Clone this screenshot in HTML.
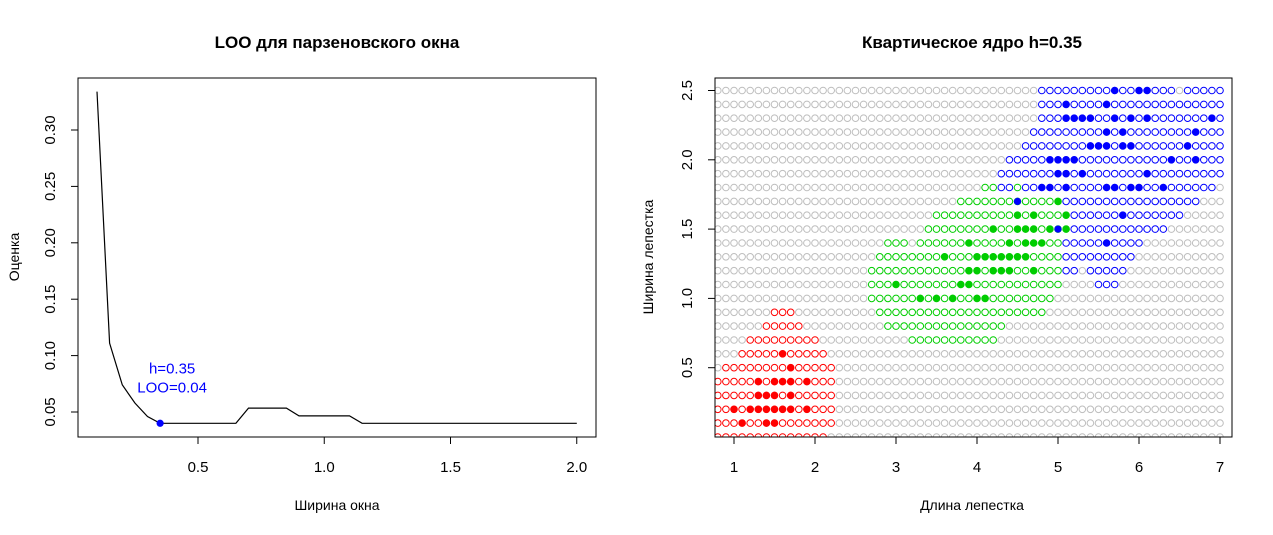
<!DOCTYPE html>
<html><head><meta charset="utf-8"><style>
body{margin:0;background:#fff;}
svg{display:block;font-family:"Liberation Sans",sans-serif;}
</style></head><body>
<svg id="svg" width="1273" height="535" viewBox="0 0 1273 535" xmlns="http://www.w3.org/2000/svg">
<rect width="1273" height="535" fill="#fff"/>
<defs><clipPath id="clipR"><rect x="715" y="78" width="517" height="359"/></clipPath></defs>
<text x="337" y="48" text-anchor="middle" font-size="17" font-weight="bold">LOO для парзеновского окна</text>
<text x="337" y="510" text-anchor="middle" font-size="14">Ширина окна</text>
<text transform="translate(19,257) rotate(-90)" text-anchor="middle" font-size="14">Оценка</text>
<rect x="78" y="78" width="518" height="359" fill="none" stroke="#000" stroke-width="1"/>
<g id="left"></g>
<text x="972" y="48" text-anchor="middle" font-size="17" font-weight="bold">Квартическое ядро h=0.35</text>
<text x="972" y="510" text-anchor="middle" font-size="14">Длина лепестка</text>
<text transform="translate(653,257) rotate(-90)" text-anchor="middle" font-size="14">Ширина лепестка</text>
<g id="right" clip-path="url(#clipR)"></g>
<g id="rightAxes"></g>
<rect x="715" y="78" width="517" height="359" fill="none" stroke="#000" stroke-width="1"/>
</svg>
<script>
// ---- Left chart data ----
const hValues=[0.1,0.15,0.2,0.25,0.3,0.35,0.4,0.45,0.5,0.55,0.6,0.65,0.7,0.75,0.8,0.85,0.9,0.95,1.0,1.05,1.1,1.15,1.2,1.25,1.3,1.35,1.4,1.45,1.5,1.55,1.6,1.65,1.7,1.75,1.8,1.85,1.9,1.95,2.0];
const looValues=[0.334,0.111,0.074,0.058,0.046,0.040,0.040,0.040,0.040,0.040,0.040,0.040,0.0535,0.0535,0.0535,0.0535,0.0465,0.0465,0.0465,0.0465,0.0465,0.040,0.040,0.040,0.040,0.040,0.040,0.040,0.040,0.040,0.040,0.040,0.040,0.040,0.040,0.040,0.040,0.040,0.040];
const leftXTicks=[0.5,1.0,1.5,2.0];
const leftXTickLabels=["0.5","1.0","1.5","2.0"];
const leftYTicks=[0.05,0.10,0.15,0.20,0.25,0.30];
const leftYTickLabels=["0.05","0.10","0.15","0.20","0.25","0.30"];
const bestH=0.35, bestLoo=0.04;
// ---- Right chart data ----
const gridYs=[2.5,2.4,2.3,2.2,2.1,2.0,1.9,1.8,1.7,1.6,1.5,1.4,1.3,1.2,1.1,1.0,0.9,0.8,0.7,0.6,0.5,0.4,0.3,0.2,0.1,0.0];
const gridSegments=[
 [["b",4.8,6.4],["b",6.6,7.0]],
 [["b",4.8,7.0]],
 [["b",4.8,7.0]],
 [["b",4.7,7.0]],
 [["b",4.6,7.0]],
 [["b",4.4,7.0]],
 [["b",4.3,7.0]],
 [["g",4.1,4.2],["b",4.3,4.4],["g",4.5,4.5],["b",4.6,6.9]],
 [["g",3.8,5.0],["b",5.1,6.7]],
 [["g",3.5,5.1],["b",5.2,6.5]],
 [["g",3.4,5.1],["b",5.2,6.3]],
 [["g",2.9,3.1],["g",3.3,5.0],["b",5.1,6.0]],
 [["g",2.8,5.0],["b",5.1,5.9]],
 [["g",2.7,5.0],["b",5.1,5.2],["b",5.4,5.8]],
 [["g",2.7,5.0],["b",5.5,5.7]],
 [["g",2.7,4.9]],
 [["r",1.5,1.7],["g",2.8,4.8]],
 [["r",1.4,1.8],["g",2.9,4.3]],
 [["r",1.2,2.0],["g",3.2,4.2]],
 [["r",1.1,2.1]],
 [["r",0.9,2.2]],
 [["r",0.8,2.2]],
 [["r",0.8,2.2]],
 [["r",0.8,2.2]],
 [["r",0.8,2.2]],
 [["r",0.8,2.1]]
];
const setosaX=[1.6,1.7,1.3,1.5,1.6,1.7,1.9,1.3,1.4,1.5,1.7,1.0,1.2,1.3,1.4,1.5,1.6,1.7,1.9,1.1,1.4,1.5];
const setosaY=[0.6,0.5,0.4,0.4,0.4,0.4,0.4,0.3,0.3,0.3,0.3,0.2,0.2,0.2,0.2,0.2,0.2,0.2,0.2,0.1,0.1,0.1];
const versicolorX=[5.0,4.5,4.7,5.1,4.2,4.5,4.6,4.7,4.9,5.1,3.9,4.4,4.6,4.7,4.8,3.6,4.0,4.1,4.2,4.3,4.4,4.5,4.6,3.9,4.0,4.2,4.3,4.4,4.7,3.0,3.8,3.9,3.3,3.5,3.7,4.0,4.1];
const versicolorY=[1.7,1.6,1.6,1.6,1.5,1.5,1.5,1.5,1.5,1.5,1.4,1.4,1.4,1.4,1.4,1.3,1.3,1.3,1.3,1.3,1.3,1.3,1.3,1.2,1.2,1.2,1.2,1.2,1.2,1.1,1.1,1.1,1.0,1.0,1.0,1.0,1.0];
const virginicaX=[5.7,6.0,6.1,5.1,5.6,5.1,5.2,5.3,5.4,5.7,5.9,6.1,6.9,5.6,5.8,6.7,5.4,5.5,5.6,5.8,5.9,6.6,4.9,5.0,5.1,5.2,6.4,6.7,5.0,5.1,5.3,6.1,4.8,4.9,5.1,5.6,5.7,5.9,6.0,6.3,4.5,5.8,5.0,5.6];
const virginicaY=[2.5,2.5,2.5,2.4,2.4,2.3,2.3,2.3,2.3,2.3,2.3,2.3,2.3,2.2,2.2,2.2,2.1,2.1,2.1,2.1,2.1,2.1,2.0,2.0,2.0,2.0,2.0,2.0,1.9,1.9,1.9,1.9,1.8,1.8,1.8,1.8,1.8,1.8,1.8,1.8,1.7,1.6,1.5,1.4];
const rightXTicks=[1,2,3,4,5,6,7];
const rightYTicks=[0.5,1.0,1.5,2.0,2.5];
const rightYTickLabels=["0.5","1.0","1.5","2.0","2.5"];

const NS="http://www.w3.org/2000/svg";
function mk(parent,tag,attrs){const e=document.createElementNS(NS,tag);for(const k in attrs)e.setAttribute(k,attrs[k]);parent.appendChild(e);return e;}
// left axes
const lx=v=>198+(v-0.5)*252.5;
const ly=v=>412-(v-0.05)*1128;
const L=document.getElementById('left');
leftXTicks.forEach((t,i)=>{
 const tk=mk(L,'line',{x1:lx(t),x2:lx(t),y1:437,y2:444,stroke:'#000'});
 
 
 const tx=mk(L,'text',{x:lx(t),y:472,'text-anchor':'middle','font-size':15});
 tx.textContent=leftXTickLabels[i];
 
 
});
leftYTicks.forEach((t,i)=>{
 const tk=mk(L,'line',{x1:71,x2:78,y1:ly(t),y2:ly(t),stroke:'#000'});
 
 
 const tx=mk(L,'text',{transform:`translate(55,${ly(t)}) rotate(-90)`,'text-anchor':'middle','font-size':15});
 tx.textContent=leftYTickLabels[i];
 
 
});
const pts=hValues.map((h,i)=>lx(h).toFixed(1)+','+ly(looValues[i]).toFixed(1)).join(' ');
const line=mk(L,'polyline',{points:pts,fill:'none',stroke:'#000','stroke-width':1.2});


const bp=mk(L,'circle',{cx:lx(bestH),cy:ly(bestLoo),r:3.6,fill:'#0000ff'});


const a1=mk(L,'text',{x:lx(bestH)+12,y:ly(bestLoo)-50,'text-anchor':'middle','font-size':15,fill:'#0000ff'});
a1.textContent='h='+bestH;


const a2=mk(L,'text',{x:lx(bestH)+12,y:ly(bestLoo)-31,'text-anchor':'middle','font-size':15,fill:'#0000ff'});
a2.textContent='LOO='+bestLoo;



// right
const rx=v=>734+(v-1)*81;
const ry=v=>437-v*138.6;
const R=document.getElementById('right');
const RA=document.getElementById('rightAxes');
const col={r:'#ff0000',g:'#00cd00',b:'#0000ff','.':'#bebebe'};
gridYs.forEach((y,ri)=>{
 for(let i=0;i<=62;i++){
  const x=Math.round((0.8+0.1*i)*10)/10;
  let c='.';
  gridSegments[ri].forEach(s=>{if(x>=s[1]-1e-6&&x<=s[2]+1e-6)c=s[0];});
  const e=mk(R,'circle',{cx:rx(x).toFixed(1),cy:ry(y).toFixed(1),r:3.3,fill:'none',stroke:col[c],'stroke-width':1});
  
  
 }
});
function drawPts(xs,ys,color,name){
 xs.forEach((x,i)=>{
  const e=mk(R,'circle',{cx:rx(x).toFixed(1),cy:ry(ys[i]).toFixed(1),r:3.6,fill:color});
  
  
 });
}
drawPts(setosaX,setosaY,col.r,'setosa-point');
drawPts(versicolorX,versicolorY,col.g,'versicolor-point');
drawPts(virginicaX,virginicaY,col.b,'virginica-point');
rightXTicks.forEach(t=>{
 const tk=mk(RA,'line',{x1:rx(t),x2:rx(t),y1:437,y2:444,stroke:'#000'});
 
 
 const tx=mk(RA,'text',{x:rx(t),y:472,'text-anchor':'middle','font-size':15});
 tx.textContent=String(t);
 
 
});
rightYTicks.forEach((t,i)=>{
 const tk=mk(RA,'line',{x1:708,x2:715,y1:ry(t),y2:ry(t),stroke:'#000'});
 
 
 const tx=mk(RA,'text',{transform:`translate(692,${ry(t)}) rotate(-90)`,'text-anchor':'middle','font-size':15});
 tx.textContent=rightYTickLabels[i];
 
 
});
</script>
</body></html>
